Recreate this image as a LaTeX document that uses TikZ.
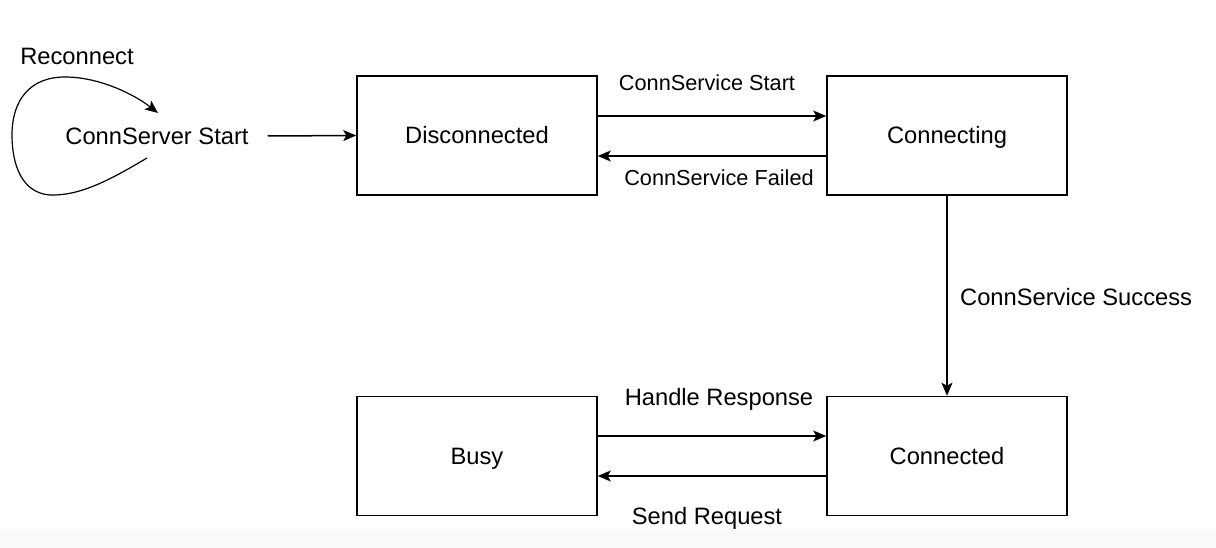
\documentclass[tikz,border=0pt]{standalone}
\usepackage{fontspec}
\setmainfont{Liberation Sans}
\usetikzlibrary{arrows.meta}
\definecolor{bandgray}{HTML}{F9F9FB}
\begin{document}
\begin{tikzpicture}[x=1pt,y=-1pt,
  state/.style={draw, line width=1.5pt, minimum width=240pt, minimum height=119pt, inner sep=0pt,
    text height=17pt, text depth=0pt, font=\fontsize{23.7}{28}\selectfont},
  lbl/.style={inner sep=0pt, text height=17pt, text depth=0pt, font=\fontsize{23.7}{28}\selectfont},
  slbl/.style={inner sep=0pt, text height=15.6pt, text depth=0pt, font=\fontsize{21.7}{26}\selectfont},
  arr/.style={line width=1.5pt, -{Stealth[length=13pt,width=11pt,inset=3pt]}}]
\useasboundingbox (0,0) rectangle (1216,548);
\fill[bandgray] (0,530) rectangle (1216,548);

\node[state] (dis) at (477,135.5) {Disconnected};
\node[state] (cng) at (947,135.5) {Connecting};
\node[state] (busy) at (477,456) {Busy};
\node[state] (cnd) at (947,456) {Connected};
\node[lbl] (cs) at (157,136) {ConnServer Start};

\draw[arr] ([xshift=19pt]cs.east) -- (dis.west);
\draw[arr] ([yshift=19.5pt]dis.east) -- ([yshift=19.5pt]cng.west);
\draw[arr] ([yshift=-20.5pt]cng.west) -- ([yshift=-20.5pt]dis.east);
\draw[arr] (cng.south) -- (cnd.north);
\draw[arr] ([yshift=20pt]busy.east) -- ([yshift=20pt]cnd.west);
\draw[arr] ([yshift=-20pt]cnd.west) -- ([yshift=-20pt]busy.east);

\coordinate (loopstart) at (147,158);
\coordinate (loopend) at (158,113);
\draw[line width=1.2pt, -{Stealth[length=13pt,width=11pt,inset=3pt]}]
  (loopstart) .. controls (110,180) and (80,196) .. (50,195)
  .. controls (22,193) and (12,165) .. (12,135)
  .. controls (12,100) and (30,77) .. (65,77)
  .. controls (100,77) and (135,95) .. (loopend);

\node[lbl] (rec) at (77,56) {Reconnect};
\node[slbl] (l1) at (707,83) {ConnService Start};
\node[slbl] (l2) at (719,178) {ConnService Failed};
\node[lbl, anchor=west] (l3) at (960,297) {ConnService Success};
\node[lbl] (l4) at (719,397) {Handle Response};
\node[lbl] (l5) at (707,516) {Send Request};
\end{tikzpicture}
\end{document}
